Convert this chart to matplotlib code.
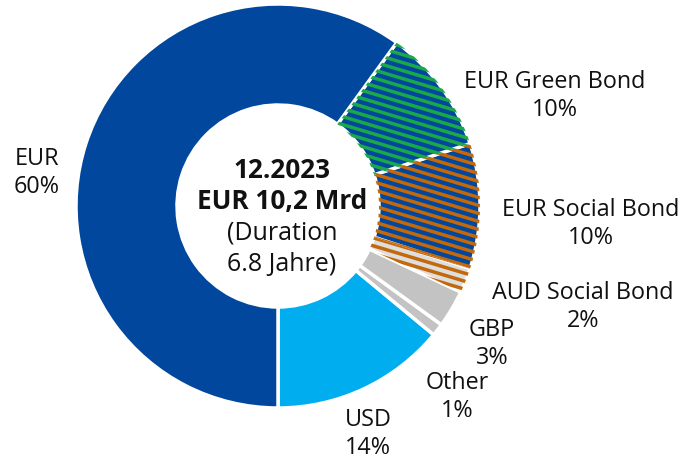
import matplotlib
matplotlib.use("Agg")
from matplotlib import pyplot as plt
from matplotlib.patches import Wedge
import numpy as np

labels = ["USD", "Other", "GBP", "AUD Social Bond", "EUR Social Bond", "EUR Green Bond", "EUR"]
shares = [14, 1, 3, 2, 10, 10, 60]
center_lines = ["12.2023", "EUR 10,2 Mrd", "(Duration", "6.8 Jahre)"]

BLUE = "#00479D"
CYAN = "#00AEEF"
GREY = "#C3C3C3"
LIGHT = "#DEDEDE"
GREEN = "#1BA84A"
ORANGE = "#C4680C"

# base colour, stripe colour (None = plain)
styles = {
    "USD": (CYAN, None),
    "Other": (GREY, None),
    "GBP": (GREY, None),
    "AUD Social Bond": (LIGHT, ORANGE),
    "EUR Social Bond": (BLUE, ORANGE),
    "EUR Green Bond": (BLUE, GREEN),
    "EUR": (BLUE, None),
}

# label anchors in pixel coords (y from top)
label_pos = {
    "USD": (368, 434),
    "Other": (457, 397),
    "GBP": (492, 344),
    "AUD Social Bond": (583, 307),
    "EUR Social Bond": (591, 224),
    "EUR Green Bond": (555, 96),
    "EUR": (37, 173),
}

W, H = 683, 462
CX, CY = 278, H - 206
R_OUT, R_IN = 202, 101
FONT = "Open Sans"

fig = plt.figure(figsize=(W / 100, H / 100), dpi=100)
ax = fig.add_axes([0, 0, 1, 1])
ax.set_xlim(0, W)
ax.set_ylim(0, H)
ax.axis("off")

start = 270.0
for lab, val in zip(labels, shares):
    span = val / sum(shares) * 360
    base, stripe = styles[lab]
    w = Wedge((CX, CY), R_OUT, start, start + span, width=R_OUT - R_IN,
              facecolor=base, edgecolor="none")
    ax.add_patch(w)
    if stripe:
        xs = np.array([CX - R_OUT, CX + R_OUT])
        for c in np.arange(-R_OUT * 1.6, R_OUT * 1.6, 8.0):
            ln, = ax.plot(xs, CY + c - 0.3 * (xs - CX), color=stripe, lw=2.5,
                          solid_capstyle="butt")
            ln.set_clip_path(w)
    # white separator drawn on top
    ax.add_patch(Wedge((CX, CY), R_OUT, start, start + span, width=R_OUT - R_IN,
                       facecolor="none", edgecolor="white", lw=2.5))
    lx, ly = label_pos[lab]
    ax.text(lx, H - ly, f"{lab}\n{val}%", ha="center", va="center",
            fontsize=16.8, family=FONT, color="#111111", linespacing=1.22)
    start += span

ys = [170, 201, 233, 264]
for i, (line, y) in enumerate(zip(center_lines, ys)):
    ax.text(282, H - y, line, ha="center", va="center",
            fontsize=18.8 if i < 2 else 18,
            family=FONT, fontweight="bold" if i < 2 else "normal",
            color="#111111")

plt.savefig("out.png", dpi=100)
